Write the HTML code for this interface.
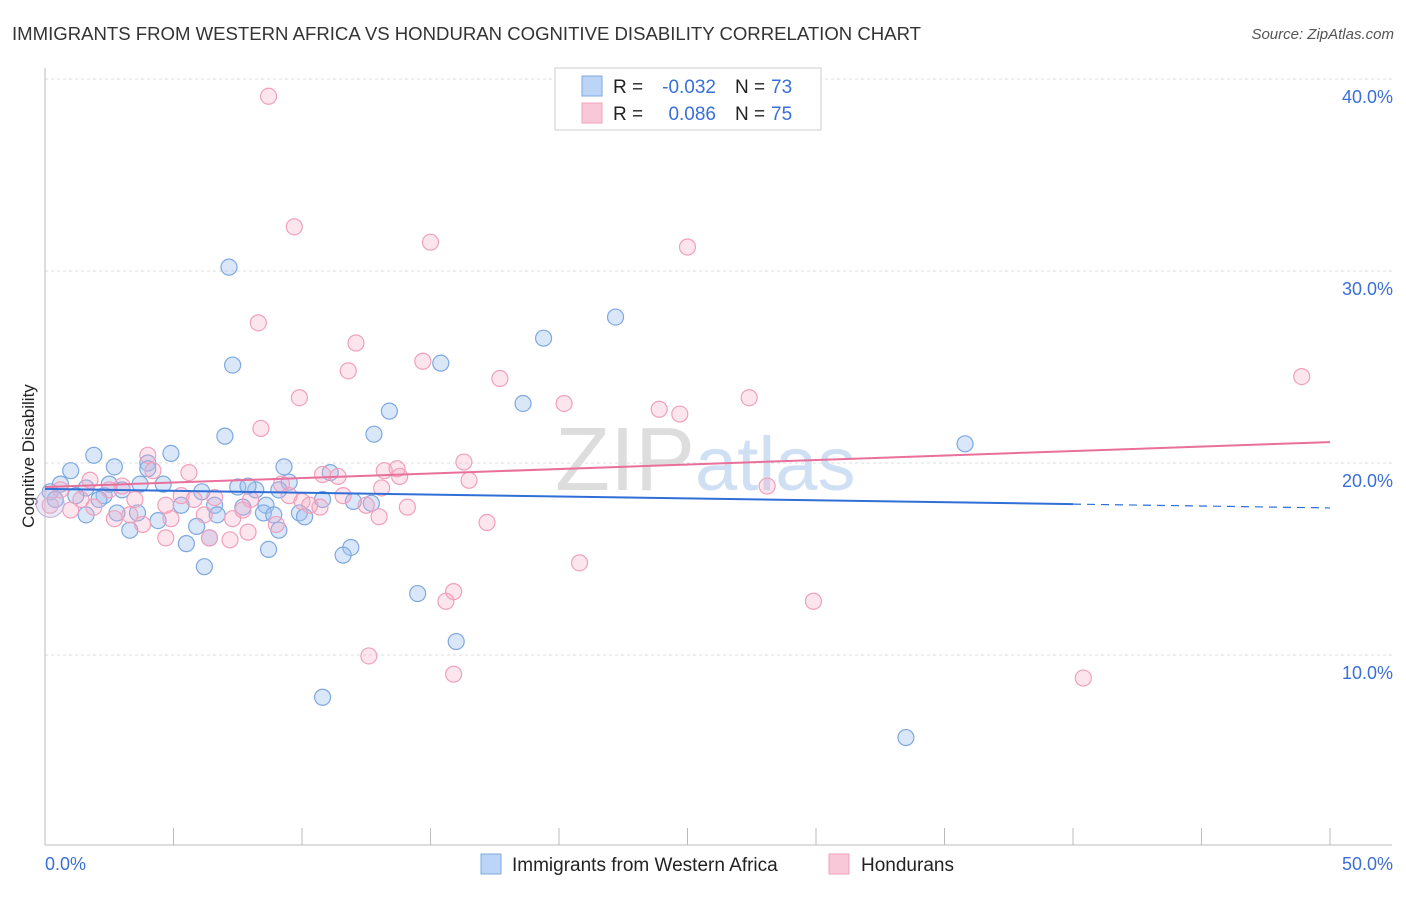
<!DOCTYPE html>
<html><head><meta charset="utf-8"><style>
body{margin:0;background:#fff;font-family:"Liberation Sans",sans-serif;}
svg text{font-family:"Liberation Sans",sans-serif;}
</style></head><body>
<svg id="c" width="1406" height="892" xmlns="http://www.w3.org/2000/svg">
<text x="12" y="40" font-size="18" fill="#333" textLength="909" lengthAdjust="spacingAndGlyphs">IMMIGRANTS FROM WESTERN AFRICA VS HONDURAN COGNITIVE DISABILITY CORRELATION CHART</text>
<text x="1394" y="39" font-size="15" fill="#555" font-style="italic" text-anchor="end">Source: ZipAtlas.com</text>
<text x="34" y="456" font-size="17" fill="#222" transform="rotate(-90 34 456)" text-anchor="middle">Cognitive Disability</text>
<text x="555" y="490" font-size="90" fill="#ddd" font-family="Liberation Serif">ZIP<tspan fill="#cfe0f4" font-family="Liberation Sans" font-size="76">atlas</tspan></text>
<g id="grid"></g><g id="pts"></g><g id="lines"></g>
<g>
<rect x="555" y="68" width="266" height="62" fill="#fff" stroke="#ccc"/>
<rect x="582" y="76" width="20" height="20" fill="#bcd4f5" stroke="#7fa8e0"/>
<rect x="582" y="103" width="20" height="20" fill="#f8c8d8" stroke="#f0a0bc"/>
<text x="613" y="93" font-size="19" fill="#222">R =</text>
<text x="716" y="93" font-size="19" fill="#3a6fd8" text-anchor="end">-0.032</text>
<text x="735" y="93" font-size="19" fill="#222">N =</text>
<text x="771" y="93" font-size="19" fill="#3a6fd8">73</text>
<text x="613" y="120" font-size="19" fill="#222">R =</text>
<text x="716" y="120" font-size="19" fill="#3a6fd8" text-anchor="end">0.086</text>
<text x="735" y="120" font-size="19" fill="#222">N =</text>
<text x="771" y="120" font-size="19" fill="#3a6fd8">75</text>
</g>
<g>
<rect x="481" y="854" width="20" height="20" fill="#bcd4f5" stroke="#7fa8e0"/>
<text x="512" y="871" font-size="19" fill="#222">Immigrants from Western Africa</text>
<rect x="829" y="854" width="20" height="20" fill="#f8c8d8" stroke="#f0a0bc"/>
<text x="861" y="871" font-size="19" fill="#222">Hondurans</text>
</g>
</svg>
<script>
const yTicks=[10,20,30,40];
const yTickLabels=["10.0%","20.0%","30.0%","40.0%"];
const xTickLabels=["0.0%","50.0%"];
const blueX=[7.16,7.3,19.4,22.2,15.4,13.4,18.6,7.0,12.8,35.8,1.9,1.0,2.7,4.0,4.9,4.0,9.3,11.1,9.5,0.6,1.6,0.2,2.3,3.0,3.7,4.6,6.1,7.5,8.2,7.9,10.8,12.0,12.7,5.3,6.6,7.7,8.6,9.9,6.7,8.5,8.9,10.1,1.6,2.8,4.4,3.3,5.9,6.4,9.1,5.5,8.7,11.9,11.6,6.2,14.5,16.0,10.8,33.5,0.4,1.2,2.1,3.6,9.1,2.5];
const blueY=[30.2,25.1,26.5,27.6,25.2,22.7,23.1,21.4,21.5,21.0,20.4,19.6,19.8,20.0,20.5,19.7,19.8,19.5,19.0,18.9,18.7,18.5,18.3,18.6,18.9,18.9,18.5,18.75,18.6,18.8,18.1,18.0,17.9,17.8,17.8,17.7,17.8,17.4,17.3,17.4,17.3,17.2,17.3,17.4,17.0,16.5,16.7,16.1,16.5,15.8,15.5,15.6,15.2,14.6,13.2,10.7,7.8,5.7,18.1,18.3,18.1,17.4,18.6,18.9];
const pinkX=[8.7,9.7,15.0,25.0,8.3,12.1,14.7,11.8,48.9,17.7,9.9,20.2,27.4,23.9,24.7,8.4,4.0,4.2,5.6,16.3,13.2,13.7,13.8,10.8,11.4,16.5,3.0,5.3,6.6,9.2,13.1,28.1,10.0,11.6,14.1,13.0,17.2,10.7,1.9,3.3,4.9,6.2,7.3,7.7,9.0,3.8,4.7,6.4,7.2,7.9,10.3,20.8,15.9,15.6,29.9,12.6,15.9,40.4,0.6,1.4,2.5,3.5,4.7,5.8,8.0,9.5,0.2,1.0,2.7,1.75,12.5];
const pinkY=[39.1,32.3,31.5,31.25,27.3,26.25,25.3,24.8,24.5,24.4,23.4,23.1,23.4,22.8,22.55,21.8,20.4,19.6,19.5,20.05,19.6,19.7,19.3,19.4,19.3,19.1,18.8,18.3,18.2,18.9,18.7,18.8,18.0,18.3,17.7,17.2,16.9,17.7,17.7,17.3,17.1,17.3,17.1,17.55,16.8,16.8,16.1,16.1,16.0,16.4,17.8,14.8,13.3,12.8,12.8,9.95,9.0,8.8,18.6,18.1,18.6,18.1,17.8,18.1,18.1,18.3,17.8,17.55,17.1,19.1,17.8];
const blueTrend=[18.65,17.66];
const pinkTrend=[18.75,21.09];
const NS="http://www.w3.org/2000/svg";
const X=v=>45+v*25.7, Y=v=>655-(v-10)*19.2;
function mk(t,a,p){const e=document.createElementNS(NS,t);for(const k in a)e.setAttribute(k,a[k]);p.appendChild(e);return e;}
const g=document.getElementById('grid');
yTicks.forEach((t,i)=>{
 const l=mk('line',{x1:45,x2:1392,y1:Y(t),y2:Y(t),stroke:'#ddd','stroke-dasharray':'3,3'},g);
 
 
 const tx=mk('text',{x:1393,y:Y(t)+24,'font-size':18,fill:'#3a6fd8','text-anchor':'end'},g);
 tx.textContent=yTickLabels[i];
 
 
});
const ax=mk('line',{x1:45,x2:1392,y1:845,y2:845,stroke:'#bbb'},g);


const ay=mk('line',{x1:45,x2:45,y1:68,y2:845,stroke:'#bbb'},g);


for(let i=0;i<=10;i++){const tk=mk('line',{x1:X(i*5),x2:X(i*5),y1:828,y2:845,stroke:'#bbb'},g);
 
 }
[[0,'start',45],[50,'end',1393]].forEach((d,i)=>{const tx=mk('text',{x:d[2],y:870,'font-size':18,fill:'#3a6fd8','text-anchor':d[1]},g);tx.textContent=xTickLabels[i];
 
 });
const p=document.getElementById('pts');
function pts(xs,ys,fill,stroke,name){xs.forEach((x,i)=>{const c=mk('circle',{cx:X(x),cy:Y(ys[i]),r:8,fill:fill,stroke:stroke,'stroke-width':1.2},p);
 
 });}
pts(blueX,blueY,'rgba(160,196,240,0.4)','#7fa8e0','point-western-africa');
pts(pinkX,pinkY,'rgba(245,170,195,0.3)','#f0a0bc','point-honduran');
const big=mk('circle',{cx:X(0.2),cy:Y(17.9),r:14,fill:'rgba(200,190,225,0.35)',stroke:'#c0b0d8'},p);


const L=document.getElementById('lines');
const bAt=x=>blueTrend[0]+(blueTrend[1]-blueTrend[0])*x/50;
const b1=mk('line',{x1:X(0),y1:Y(bAt(0)),x2:X(40),y2:Y(bAt(40)),stroke:'#2f6fd6','stroke-width':2},L);


const b2=mk('line',{x1:X(40),y1:Y(bAt(40)),x2:X(50),y2:Y(bAt(50)),stroke:'#2f6fd6','stroke-width':1.2,'stroke-dasharray':'8,6'},L);


const pl=mk('line',{x1:X(0),y1:Y(pinkTrend[0]),x2:X(50),y2:Y(pinkTrend[1]),stroke:'#e8709a','stroke-width':2},L);


</script>
</body></html>
